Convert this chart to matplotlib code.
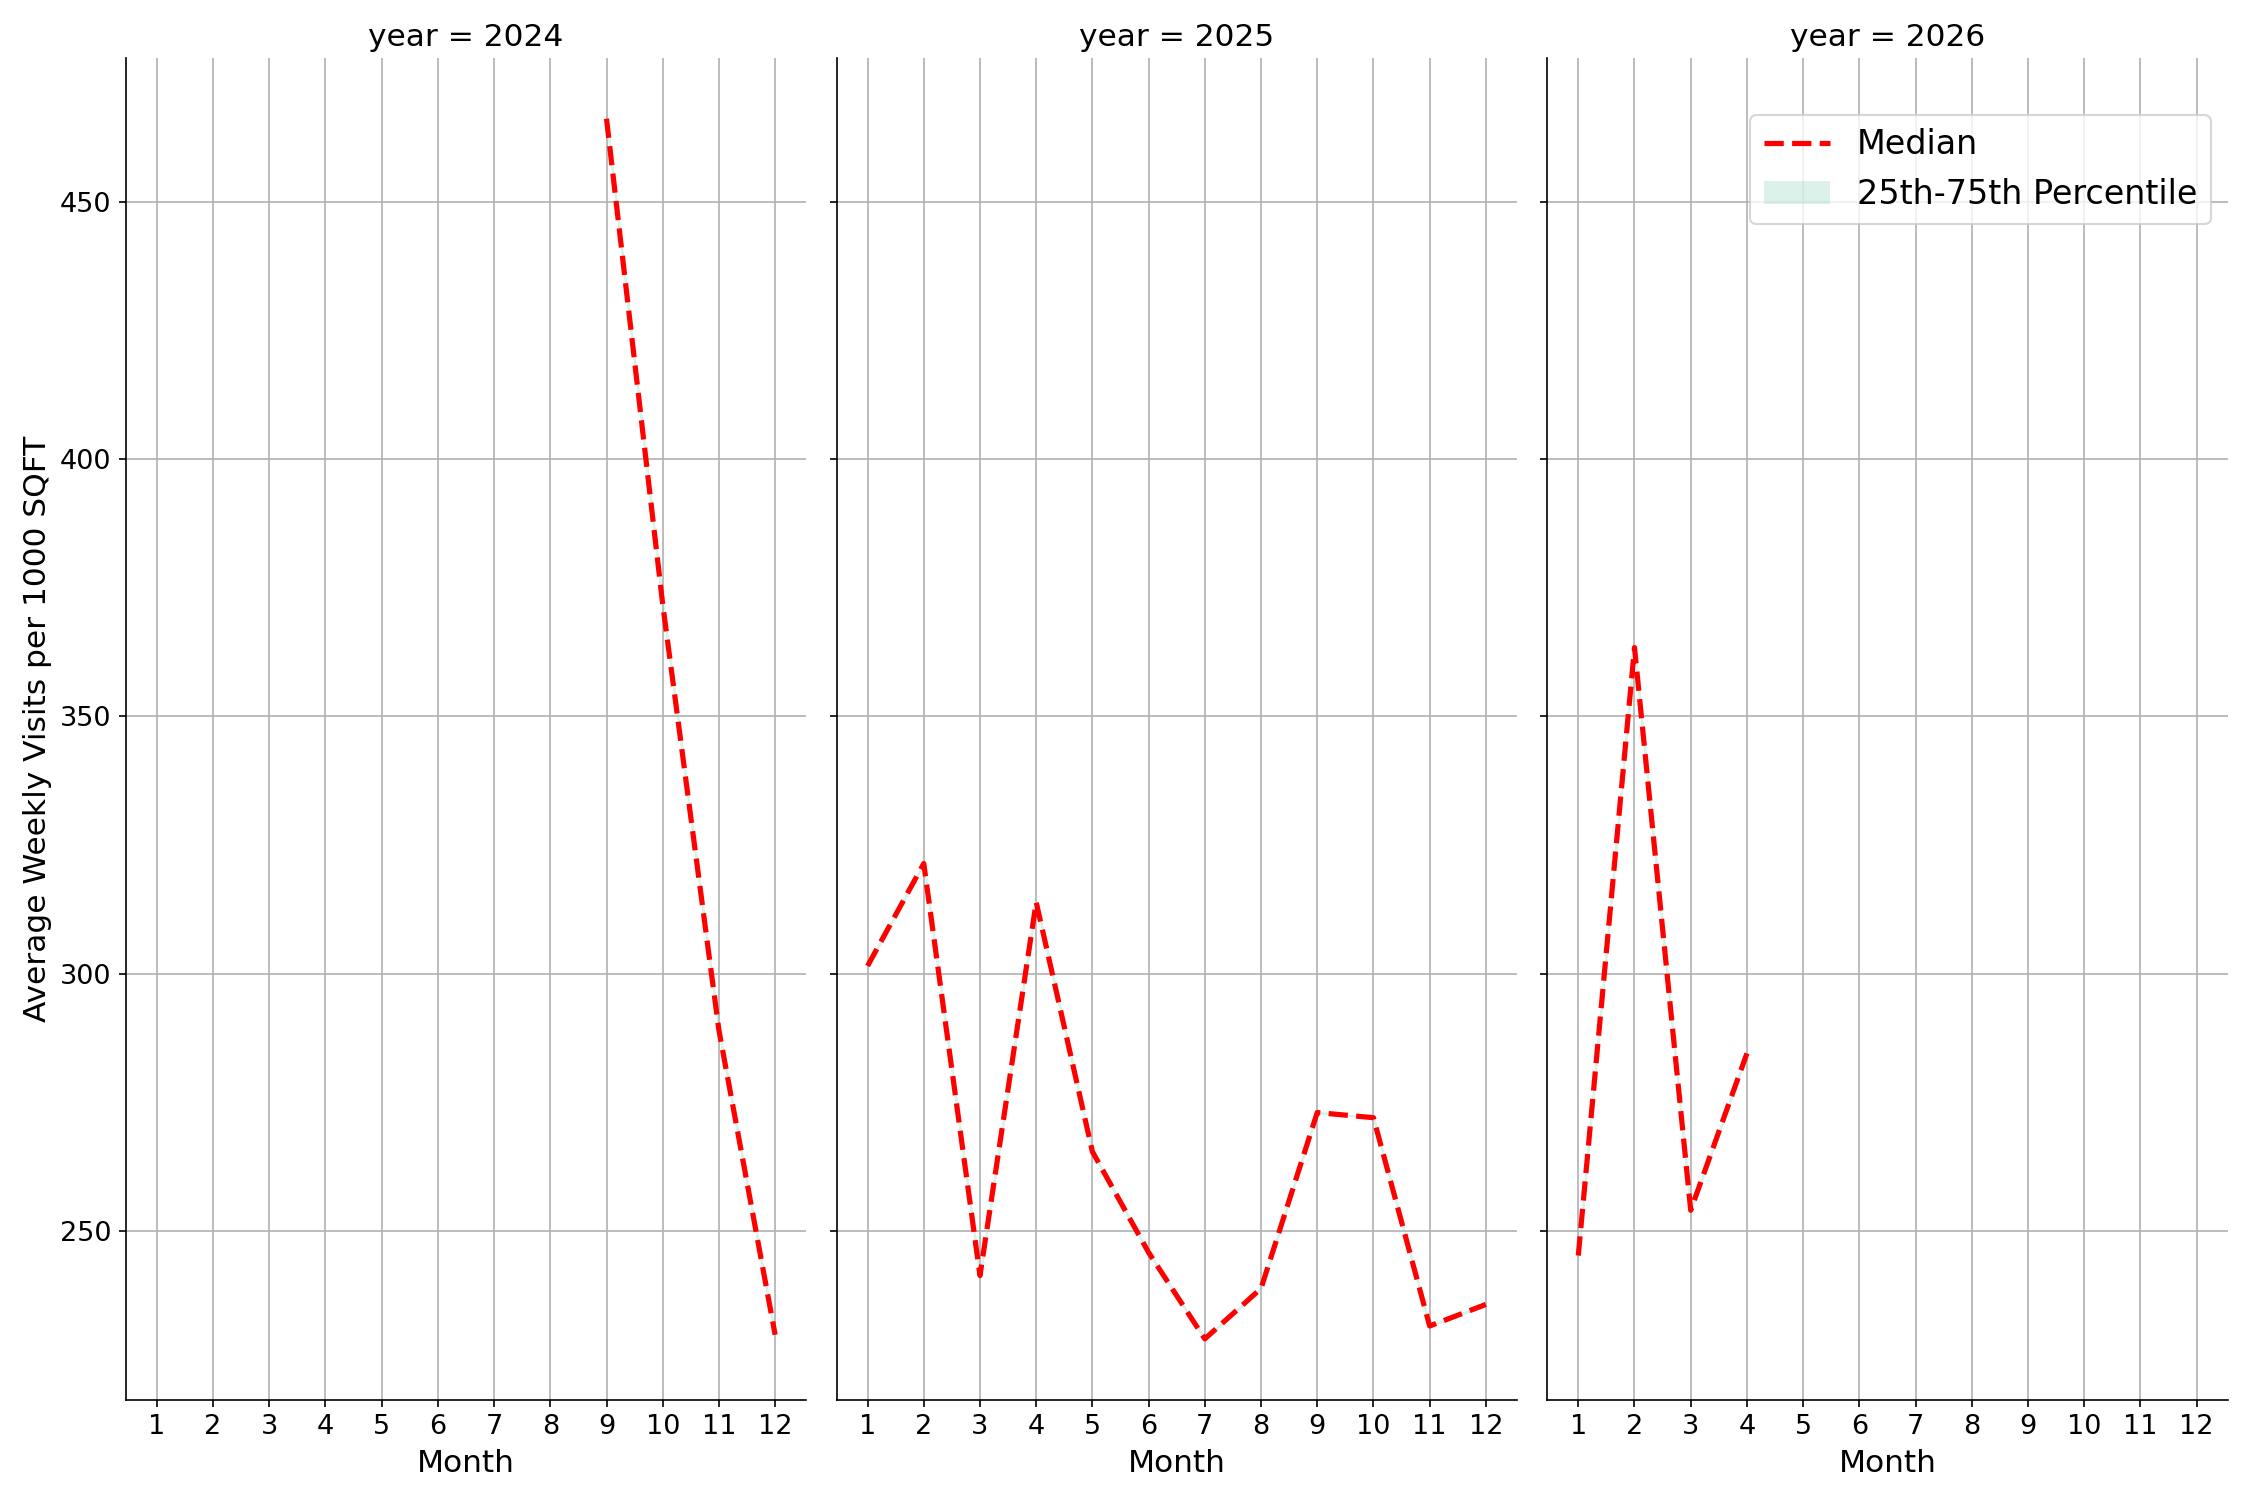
import matplotlib
matplotlib.use("Agg")
import matplotlib.pyplot as plt
from matplotlib.lines import Line2D
from matplotlib.patches import Patch

years = [2024, 2025, 2026]
months_2024 = [9, 10, 11, 12]
median_2024 = [466.2, 371.8, 289.0, 229.8]
months_2025 = [1, 2, 3, 4, 5, 6, 7, 8, 9, 10, 11, 12]
median_2025 = [301.5, 321.4, 241.3, 313.9, 265.4, 245.8, 229.0, 238.8, 273.0, 272.0, 231.5, 235.7]
months_2026 = [1, 2, 3, 4]
median_2026 = [245.2, 363.4, 254.0, 284.5]

data = {2024: (months_2024, median_2024), 2025: (months_2025, median_2025), 2026: (months_2026, median_2026)}

fig, axes = plt.subplots(1, 3, figsize=(15, 10), dpi=150, sharey=True)
for ax, yr in zip(axes, years):
    m, v = data[yr]
    ax.fill_between(m, v, v, color="#8fd1c0", alpha=0.3)
    ax.plot(m, v, color="red", linestyle="--", linewidth=2.5)
    ax.set_title(f"year = {yr}", fontsize=15)
    ax.set_xticks(range(1, 13))
    ax.set_xlim(0.45, 12.55)
    ax.set_xlabel("Month", fontsize=15)
    ax.grid(True, color="#b0b0b0", linewidth=0.8)
    ax.set_axisbelow(True)
    ax.spines["top"].set_visible(False)
    ax.spines["right"].set_visible(False)
    ax.tick_params(labelsize=13)
axes[0].set_ylim(217.2, 478)
axes[0].set_yticks([250, 300, 350, 400, 450])
axes[0].set_ylabel("Average Weekly Visits per 1000 SQFT", fontsize=15)
handles = [Line2D([], [], color="red", linestyle="--", linewidth=2.5),
           Patch(facecolor="#8fd1c0", alpha=0.3)]
axes[2].legend(handles, ["Median", "25th-75th Percentile"], loc="upper right",
               bbox_to_anchor=(1.0, 0.97), fontsize=16)
fig.tight_layout()
fig.subplots_adjust(wspace=0.045)
fig.savefig("out.png")
